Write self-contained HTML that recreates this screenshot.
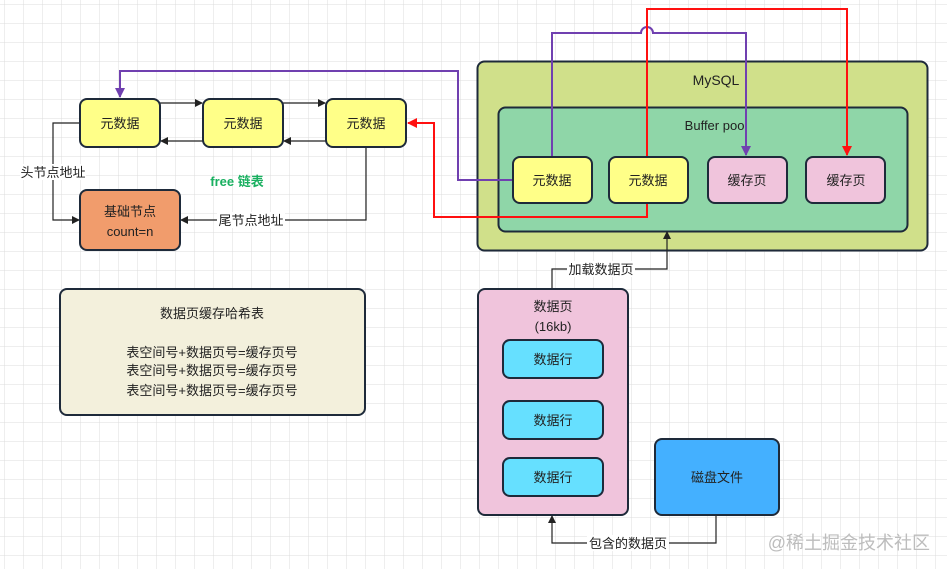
<!DOCTYPE html>
<html><head><meta charset="utf-8"><style>
html,body{margin:0;padding:0;background:#fff;}
svg{display:block;}
text{font-family:"Liberation Sans","Noto Sans CJK SC",sans-serif;font-size:13px;fill:#222;}
</style></head><body>
<svg width="947" height="569" viewBox="0 0 947 569" xmlns="http://www.w3.org/2000/svg">
<defs>
<pattern id="g" x="4.3" y="4.3" width="19" height="19" patternUnits="userSpaceOnUse">
<path d="M0 0H19M0 0V19" stroke="#dcdcdc" stroke-width="1" fill="none"/>
</pattern>
<marker id="ak" markerWidth="8" markerHeight="8" refX="7" refY="4" orient="auto" markerUnits="userSpaceOnUse"><path d="M0,0L8,4L0,8z" fill="#222"/></marker>
<marker id="ap" markerWidth="10" markerHeight="10" refX="9" refY="5" orient="auto" markerUnits="userSpaceOnUse"><path d="M0,0L10,5L0,10z" fill="#7040b0"/></marker>
<marker id="ar" markerWidth="10" markerHeight="10" refX="9" refY="5" orient="auto" markerUnits="userSpaceOnUse"><path d="M0,0L10,5L0,10z" fill="#ff1010"/></marker>
</defs>
<rect width="947" height="569" fill="url(#g)"/>

<rect x="477.5" y="61.5" width="450" height="189" rx="7" fill="#d0e08a" stroke="#1e2a3a" stroke-width="2"/>
<text x="716" y="85" text-anchor="middle" style="font-size:14px">MySQL</text>
<rect x="498.5" y="107.5" width="409" height="124" rx="7" fill="#8fd6a8" stroke="#1e2a3a" stroke-width="2"/>
<text x="716" y="130" text-anchor="middle">Buffer pool</text>

<g fill="none" stroke-width="2">
<path d="M513 180H458V71H120V97" stroke="#7040b0" marker-end="url(#ap)"/>
<path d="M552 157V33H641A6 6 0 0 1 653 33H746V155" stroke="#7040b0" marker-end="url(#ap)"/>
<path d="M647 157V9H847V155" stroke="#ff1010" marker-end="url(#ar)"/>
<path d="M647 203V217H434V123H408" stroke="#ff1010" marker-end="url(#ar)"/>
</g>
<g fill="none" stroke="#222" stroke-width="1.2">
<path d="M160 103H202" marker-end="url(#ak)"/>
<path d="M283 103H325" marker-end="url(#ak)"/>
<path d="M203 141H161" marker-end="url(#ak)"/>
<path d="M326 141H284" marker-end="url(#ak)"/>
<path d="M80 123H53V220H79" marker-end="url(#ak)"/>
<path d="M366 147V220H181" marker-end="url(#ak)"/>
<path d="M552 288V269H667V232" marker-end="url(#ak)"/>
<path d="M716 515V543H552V516" marker-end="url(#ak)"/>
</g>

<g stroke="#1e2a3a" stroke-width="2">
<rect x="80" y="99" width="80" height="48" rx="7" fill="#ffff88"/>
<rect x="203" y="99" width="80" height="48" rx="7" fill="#ffff88"/>
<rect x="326" y="99" width="80" height="48" rx="7" fill="#ffff88"/>
<rect x="80" y="190" width="100" height="60" rx="7" fill="#f19c6c"/>
<rect x="513" y="157" width="79" height="46" rx="7" fill="#ffff88"/>
<rect x="609" y="157" width="79" height="46" rx="7" fill="#ffff88"/>
<rect x="708" y="157" width="79" height="46" rx="7" fill="#f0c4dc"/>
<rect x="806" y="157" width="79" height="46" rx="7" fill="#f0c4dc"/>
<rect x="60" y="289" width="305" height="126" rx="7" fill="#f3f0dc"/>
<rect x="478" y="289" width="150" height="226" rx="7" fill="#f0c4dc"/>
<rect x="503" y="340" width="100" height="38" rx="7" fill="#66e0ff"/>
<rect x="503" y="401" width="100" height="38" rx="7" fill="#66e0ff"/>
<rect x="503" y="458" width="100" height="38" rx="7" fill="#66e0ff"/>
<rect x="655" y="439" width="124" height="76" rx="7" fill="#44b0ff"/>
</g>

<g text-anchor="middle">
<text x="120" y="128">元数据</text>
<text x="243" y="128">元数据</text>
<text x="366" y="128">元数据</text>
<text x="130" y="216">基础节点</text>
<text x="130" y="236">count=n</text>
<text x="552" y="185">元数据</text>
<text x="648" y="185">元数据</text>
<text x="747" y="185">缓存页</text>
<text x="846" y="185">缓存页</text>
<text x="212" y="318">数据页缓存哈希表</text>
<text x="212" y="357">表空间号+数据页号=缓存页号</text>
<text x="212" y="375">表空间号+数据页号=缓存页号</text>
<text x="212" y="395">表空间号+数据页号=缓存页号</text>
<text x="553" y="311">数据页</text>
<text x="553" y="331">(16kb)</text>
<text x="553" y="364">数据行</text>
<text x="553" y="425">数据行</text>
<text x="553" y="482">数据行</text>
<text x="717" y="482">磁盘文件</text>
<text x="237" y="186" font-weight="bold" style="fill:#19b060">free 链表</text>
</g>
<g text-anchor="middle">
<rect x="20" y="164" width="66" height="16" fill="#fff"/>
<text x="53" y="177">头节点地址</text>
<rect x="217" y="212" width="68" height="16" fill="#fff"/>
<text x="251" y="225">尾节点地址</text>
<rect x="567" y="261" width="68" height="16" fill="#fff"/>
<text x="601" y="274">加载数据页</text>
<rect x="587" y="535" width="82" height="16" fill="#fff"/>
<text x="628" y="548">包含的数据页</text>
</g>
<text x="930" y="549" text-anchor="end" style="font-size:18px;fill:#bdbdbd">@稀土掘金技术社区</text>
</svg>
</body></html>
